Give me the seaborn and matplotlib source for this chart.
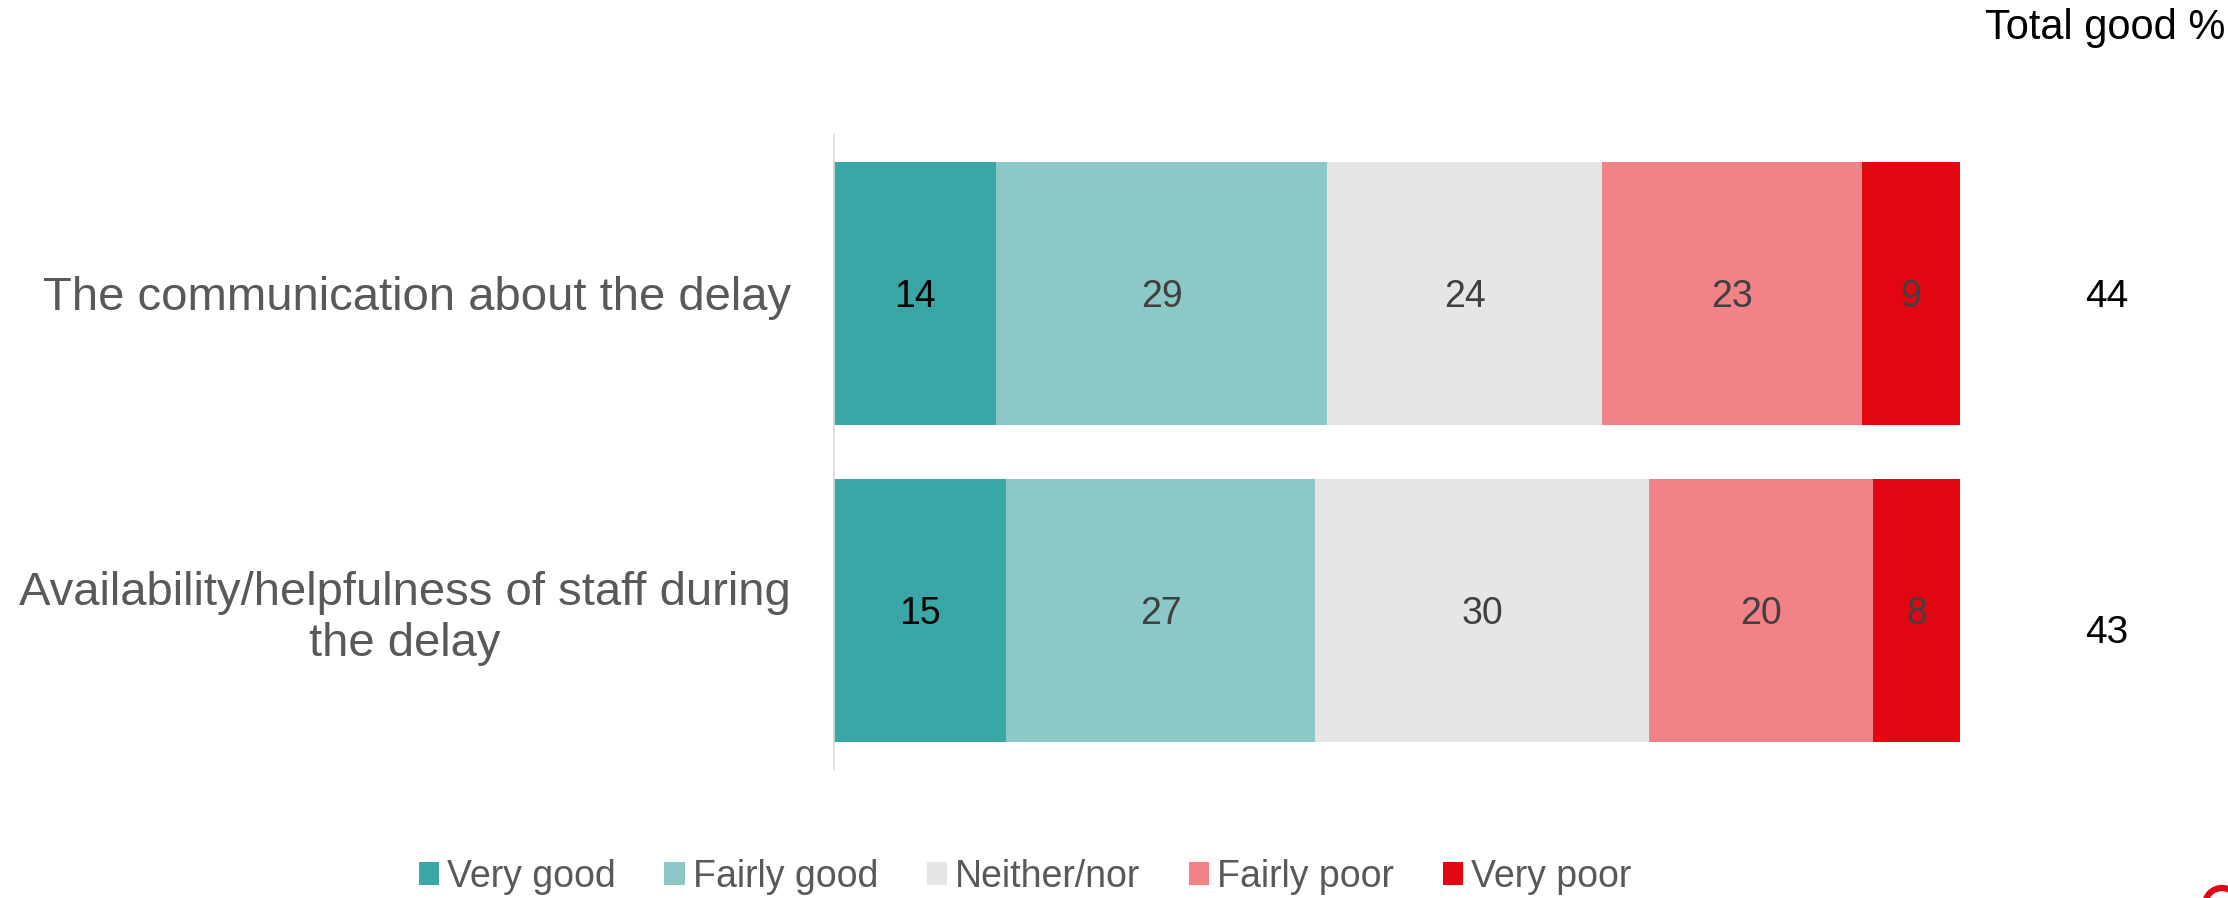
import pandas as pd
import matplotlib
matplotlib.use("Agg")
import matplotlib.pyplot as plt
from matplotlib.patches import Patch, Circle
import seaborn as sns

# data (shares in %)
questions = ["The communication about the delay",
             "Availability/helpfulness of staff during\nthe delay"]
levels = ["Very good", "Fairly good", "Neither/nor", "Fairly poor", "Very poor"]
very_good = [14.4, 15.3]
fairly_good = [29.4, 27.4]
neither = [24.4, 29.7]
fairly_poor = [23.1, 19.9]
very_poor = [8.7, 7.7]
colours = ["#3AA6A6", "#8CC8C8", "#E6E6E6", "#F18287", "#E20613"]
label_colours = ["#000000", "#404040", "#404040", "#404040", "#404040"]

df = pd.DataFrame({"question": questions, "Very good": very_good,
                   "Fairly good": fairly_good, "Neither/nor": neither,
                   "Fairly poor": fairly_poor, "Very poor": very_poor})
cum = df[levels].cumsum(axis=1)
total_good = (df["Very good"] + df["Fairly good"]).round().astype(int)

sns.set_theme(style="white")
plt.rcParams["font.family"] = ["Liberation Sans", "DejaVu Sans"]

fig = plt.figure(figsize=(22.28, 8.98), dpi=100)
ax = fig.add_axes([0.3743, 0.1437, 0.5054, 0.706])

# stacked bars: draw the longest cumulative first, shorter ones on top
for lev, col in reversed(list(zip(levels, colours))):
    sns.barplot(x=cum[lev], y=df["question"], color=col, orient="h",
                width=0.83, saturation=1, ax=ax, linewidth=0)

for i in range(len(df)):
    for j, lev in enumerate(levels):
        v = df.loc[i, lev]
        ax.text(cum.loc[i, lev] - v / 2, i, f"{round(v)}", ha="center",
                va="center_baseline", fontsize=27, color=label_colours[j])
    # total good column to the right
    ax.text(113, i + (0.06 if i == 1 else 0), f"{total_good[i]}", ha="center",
            va="center_baseline", fontsize=28, color="#000000", clip_on=False)

fig.text(0.891, 0.957, "Total good %", ha="left", va="baseline",
         fontsize=30, color="#000000")

ax.set_xlim(0, 100)
ax.set_ylim(1.5, -0.5)
ax.set_xticks([])
ax.set_xlabel("")
ax.set_ylabel("")
ax.tick_params(axis="y", length=0, pad=31, labelsize=34, labelcolor="#595959")
for lbl in ax.get_yticklabels():
    lbl.set_multialignment("center")
for s in ["top", "right", "bottom"]:
    ax.spines[s].set_visible(False)
ax.spines["left"].set_color("#D9D9D9")
ax.spines["left"].set_linewidth(1.2)

handles = [Patch(facecolor=c, edgecolor="none") for c in colours]
fig.legend(handles, levels, loc="center", bbox_to_anchor=(0.46, 0.0234),
           ncol=5, frameon=False, fontsize=27, labelcolor="#595959",
           handlelength=0.55, handleheight=0.55, handletextpad=0.2,
           columnspacing=1.3, borderpad=0)

# clipped logo ring in the bottom right corner
fig.add_artist(Circle((22.22, -0.07), 0.17, transform=fig.dpi_scale_trans,
                      fill=False, edgecolor="#E20613", linewidth=4.5))

fig.savefig("out.png", dpi=100)
